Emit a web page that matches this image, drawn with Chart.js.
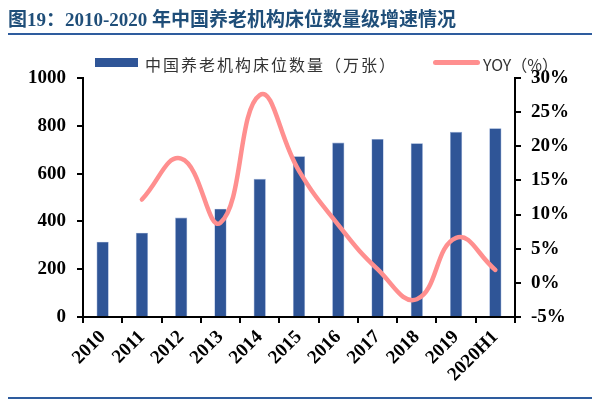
<!DOCTYPE html>
<html>
<head>
<meta charset="utf-8">
<script src="https://cdn.jsdelivr.net/npm/chart.js@4/dist/chart.umd.min.js"></script>
<style>
    body { margin: 0; background: #fff; }
    .wrap { position: relative; width: 600px; height: 400px; }
    .title { position: absolute; left: 8px; top: 4px; font: bold 19px "Liberation Serif", "Noto Sans CJK SC", serif; color: #1F4E79; white-space: nowrap; }
    .rule { position: absolute; left: 8px; width: 584px; height: 2px; background: #2E5C9E; }
    .legend { position: absolute; top: 52px; font: 16px "Noto Sans CJK SC", sans-serif; color: #333; letter-spacing: 2px; white-space: nowrap; }
    .swatch { position: absolute; }
    canvas { position: absolute; left: 0; top: 0; }
</style>
</head>
<body>
<div class="wrap">
    <canvas id="chart" width="600" height="400"></canvas>
    <div class="title">图19：2010-2020 年中国养老机构床位数量级增速情况</div>
    <div class="rule" style="top:33px"></div>
    <div class="rule" style="top:397px"></div>
    <div class="swatch" style="left:95px; top:58px; width:43px; height:9px; background:#2F5597"></div>
    <div class="legend" style="left:145px">中国养老机构床位数量（万张）</div>
    <div class="swatch" style="left:433px; top:60px; width:47px; height:5px; border-radius:3px; background:#FF8F8F"></div>
    <div class="legend" style="left:483px; letter-spacing:0">YOY（%）</div>
</div>
<script>
// data
const years = ['2010', '2011', '2012', '2013', '2014', '2015', '2016', '2017', '2018', '2019', '2020H1'];
const beds = [315, 353, 416, 453, 578, 673, 730, 745, 727, 775, 790];
const yoy = [null, 12.2, 18.2, 8.8, 27.5, 16.4, 8.5, 2.0, -2.4, 6.6, 1.9];
const leftTicks = [0, 200, 400, 600, 800, 1000];
const rightTicks = [-5, 0, 5, 10, 15, 20, 25, 30];

const tickFont = { family: '"Liberation Serif", serif', weight: 'bold', size: 19 };

new Chart(document.getElementById('chart'), {
    data: {
        labels: years,
        datasets: [
            {
                type: 'line', label: 'YOY（%）', data: yoy, yAxisID: 'y1', order: 0,
                borderColor: '#FF8F8F', borderWidth: 4.5, pointRadius: 0,
                tension: 0.45, borderCapStyle: 'round', spanGaps: false
            },
            {
                type: 'bar', label: '中国养老机构床位数量（万张）', data: beds, yAxisID: 'y', order: 1,
                backgroundColor: '#2F5597', borderColor: '#8FA8D6', borderWidth: 0.6,
                categoryPercentage: 1, barPercentage: 0.31
            }
        ]
    },
    options: {
        responsive: false,
        animation: false,
        layout: { padding: { top: 78, left: 0, right: 0, bottom: 0 } },
        plugins: { legend: { display: false }, tooltip: { enabled: false } },
        scales: {
            x: {
                offset: true,
                grid: { drawOnChartArea: false, offset: true, color: '#000', tickLength: 6, lineWidth: 2 },
                border: { color: '#000', width: 2 },
                ticks: { color: '#000', font: { ...tickFont, size: 19 }, minRotation: 45, maxRotation: 45, autoSkip: false, padding: 3 },
                afterFit: s => { s.height = 83; }
            },
            y: {
                position: 'left', min: 0, max: 1000,
                afterBuildTicks: s => { s.ticks = leftTicks.map(v => ({ value: v })); },
                grid: { drawOnChartArea: false, color: '#000', tickLength: 6, lineWidth: 2 },
                border: { color: '#000', width: 2 },
                ticks: { color: '#000', font: tickFont, padding: 11, callback: v => String(v) },
                afterFit: s => { s.width = 83; }
            },
            y1: {
                position: 'right', min: -5, max: 30,
                afterBuildTicks: s => { s.ticks = rightTicks.map(v => ({ value: v })); },
                grid: { drawOnChartArea: false, color: '#000', tickLength: 6, lineWidth: 2 },
                border: { color: '#000', width: 2 },
                ticks: { color: '#000', font: tickFont, padding: 10, callback: v => v + '%' },
                afterFit: s => { s.width = 85; }
            }
        }
    }
});
</script>
</body>
</html>
